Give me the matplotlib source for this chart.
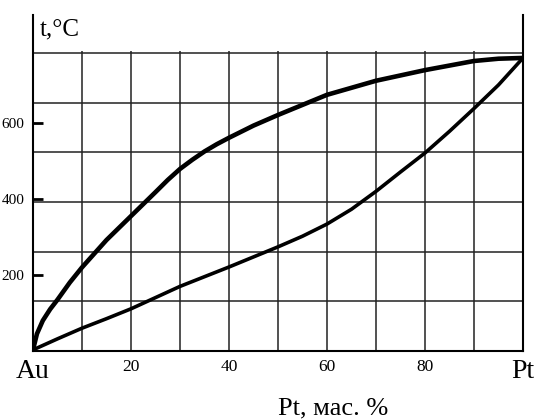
import numpy as np
import matplotlib
matplotlib.use('Agg')
import matplotlib.pyplot as plt

plt.rcParams['font.family'] = ['Liberation Serif', 'DejaVu Serif']

# Линия ликвидус: состав (мас. % Pt) и температура, °C
liq_pt = [0, 0.8, 2, 3.5, 5, 7.5, 10, 15, 20, 25, 27.5, 30, 32.5, 35, 37.5, 40, 45, 50,
          60, 70, 80, 90, 95, 100]
liq_t = [1003, 1045, 1080, 1110, 1135, 1180, 1220, 1292, 1355, 1418, 1450, 1479, 1503, 1525, 1544, 1561,
         1593, 1621, 1674, 1711, 1739, 1763, 1769, 1771]

# Линия солидус
sol_pt = [0, 5, 10, 15, 20, 30, 40, 50, 55, 60, 65, 70, 75, 80, 85, 90, 95, 100]
sol_t = [1003, 1032, 1060, 1085, 1111, 1170, 1221, 1274, 1302, 1334, 1373, 1420, 1471, 1521, 1578, 1638, 1700, 1771]

y_ticks = [1200, 1400, 1600]
y_ticklabels = ['200', '400', '600']
x_ticks = [0, 20, 40, 60, 80, 100]
x_ticklabels = ['Au', '20', '40', '60', '80', 'Pt']

fig = plt.figure(figsize=(5.36, 4.19), dpi=100)
ax = fig.add_axes([33 / 536, 68 / 419, 490 / 536, 336 / 419])
ax.set_xlim(0, 100)
ax.set_ylim(1000, 1884)

# сетка
grid_y = [1000 + k * 784 / 6 for k in range(1, 7)]
ax.hlines(grid_y, 0, 100, color='#222222', lw=1.1, zorder=1)
ax.vlines(np.arange(10, 100, 10), 1000, 1790, color='#222222', lw=1.1, zorder=1)

ax.plot(liq_pt, liq_t, color='black', lw=3.3, solid_capstyle='round',
        solid_joinstyle='round', zorder=3)
ax.plot(sol_pt, sol_t, color='black', lw=2.6, solid_capstyle='round',
        solid_joinstyle='round', zorder=3)

for side in ['left', 'right', 'bottom']:
    ax.spines[side].set_linewidth(1.5)
ax.spines['top'].set_visible(False)

ax.set_yticks(y_ticks)
ax.set_yticklabels(y_ticklabels, fontsize=11)
ax.tick_params(axis='y', direction='in', length=7, width=2, pad=6)

ax.set_xticks(x_ticks)
ax.set_xticklabels(x_ticklabels, fontsize=12.5)
ax.tick_params(axis='x', length=0, pad=6)
for lbl in ax.get_xticklabels():
    if lbl.get_text() in ('Au', 'Pt'):
        lbl.set_fontsize(20)

fig.text(40 / 536, 1 - 35 / 419, 't,°C', fontsize=18, ha='left', va='baseline')
fig.text(333 / 536, 1 - 414 / 419, 'Pt, мас. %', fontsize=19, ha='center', va='baseline')

fig.savefig('out.png', dpi=100)
